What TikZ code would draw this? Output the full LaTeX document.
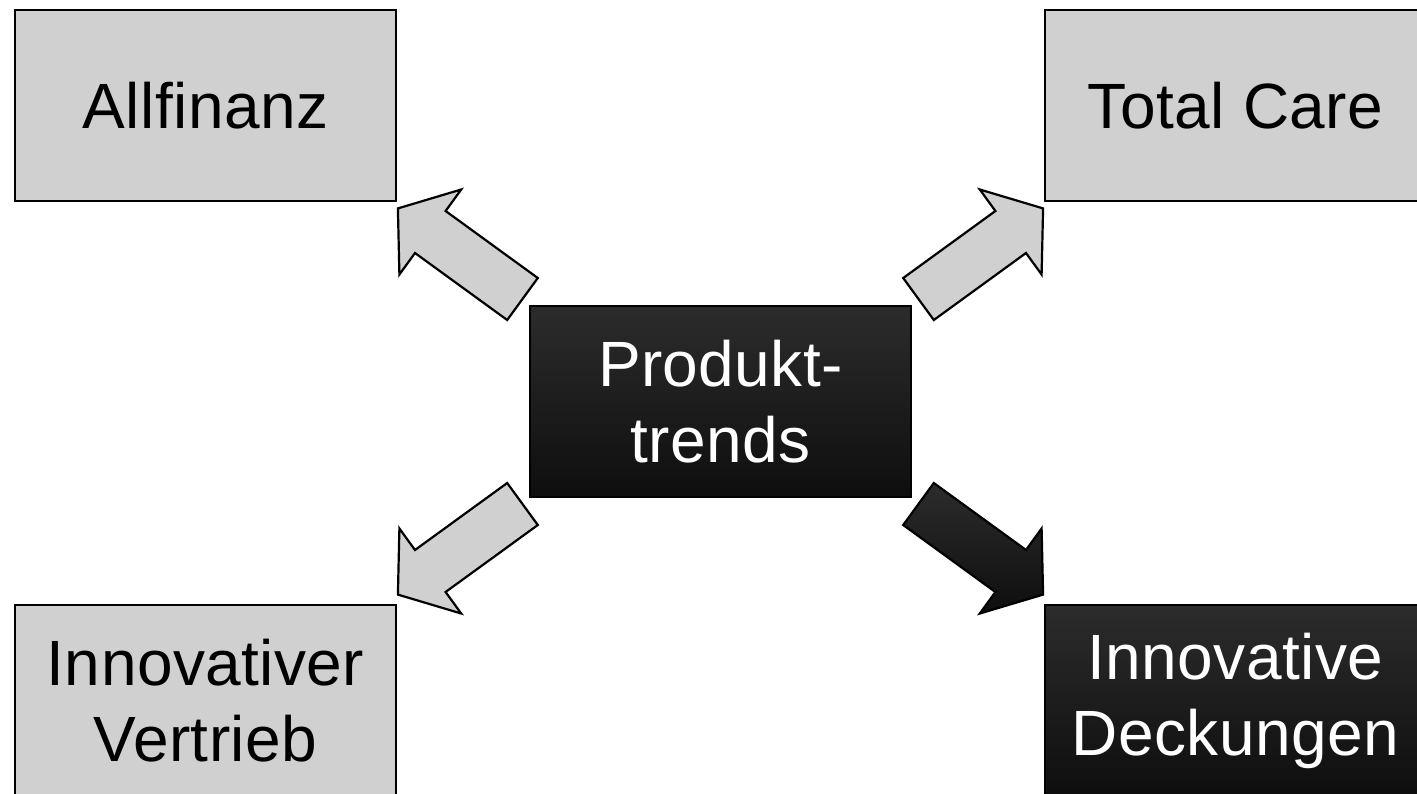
\documentclass[tikz,border=0pt]{standalone}
\usepackage{fontspec}
\setmainfont{Liberation Sans}[LetterSpace=0.7]
\definecolor{boxgray}{RGB}{208,208,208}
\definecolor{darktop}{RGB}{44,44,44}
\definecolor{darkbot}{RGB}{14,14,14}
\tikzset{
  lightbox/.style={draw=black, line width=2.2pt, fill=boxgray, rectangle,
    minimum width=381pt, minimum height=191pt, inner sep=0pt, align=center,
    font=\fontsize{64}{76}\selectfont, text=black},
  darkbox/.style={draw=black, line width=2.2pt, top color=darktop, bottom color=darkbot, rectangle,
    minimum width=381pt, minimum height=191pt, inner sep=0pt, align=center,
    font=\fontsize{64}{76}\selectfont, text=white},
  lightarrow/.style={draw=black, line width=2.2pt, fill=boxgray, line join=miter},
  darkarrow/.style={draw=black, line width=2.2pt, top color=darktop, bottom color=darkbot, line join=miter}
}
\begin{document}
\begin{tikzpicture}[x=1pt,y=-1pt]
\useasboundingbox (0,0) rectangle (1417,793);
\node[lightbox] (allfinanz) at (205.5,105.5) {Allfinanz};
\node[lightbox] (totalcare) at (1235.5,105.5) {Total Care};
\node[lightbox] (vertrieb) at (205.5,700.5) {Innovativer\\Vertrieb};
\node[darkbox] (deckungen) at (1235.5,700.5) {Innovative\\Deckungen};
\node[darkbox] (center) at (720.5,401.5) {Produkt-\\trends};
% upper-left arrow
\draw[lightarrow] (537.8,278) -- (445.6,211) -- (461.2,189.5) -- (397.9,208.4) -- (399.4,274.5) -- (415,253) -- (507.2,320) -- cycle;
% upper-right arrow
\draw[lightarrow] (903.2,278) -- (995.4,211) -- (979.8,189.5) -- (1043.1,208.4) -- (1041.6,274.5) -- (1026,253) -- (933.8,320) -- cycle;
% lower-left arrow
\draw[lightarrow] (537.8,525) -- (445.6,592) -- (461.2,613.5) -- (397.9,594.6) -- (399.4,528.5) -- (415,550) -- (507.2,483) -- cycle;
% lower-right arrow
\draw[darkarrow] (903.2,525) -- (995.4,592) -- (979.8,613.5) -- (1043.1,594.6) -- (1041.6,528.5) -- (1026,550) -- (933.8,483) -- cycle;
\end{tikzpicture}
\end{document}
